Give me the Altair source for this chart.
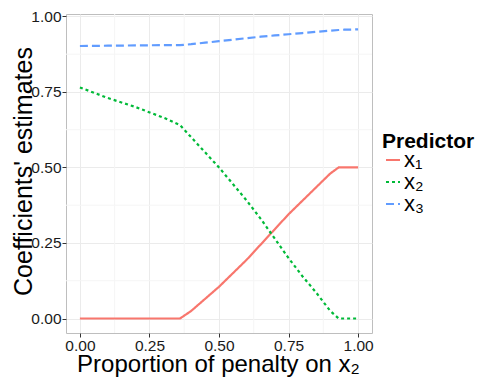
import altair as alt
import pandas as pd

prop = [0.0, 0.1, 0.2, 0.3, 0.36, 0.4, 0.45, 0.5, 0.55, 0.6, 0.65, 0.7, 0.75, 0.8, 0.85, 0.9, 0.93, 0.95, 1.0]
x1 = [0.0, 0.0, 0.0, 0.0, 0.0, 0.025, 0.065, 0.105, 0.15, 0.195, 0.245, 0.295, 0.345, 0.39, 0.435, 0.48, 0.50, 0.50, 0.50]
x2 = [0.765, 0.73, 0.70, 0.665, 0.64, 0.60, 0.55, 0.50, 0.445, 0.39, 0.33, 0.265, 0.20, 0.14, 0.085, 0.025, 0.0, 0.0, 0.0]
x3 = [0.902, 0.903, 0.904, 0.905, 0.905, 0.908, 0.913, 0.918, 0.923, 0.928, 0.933, 0.937, 0.941, 0.945, 0.949, 0.953, 0.955, 0.956, 0.957]
predictors = ["x₁", "x₂", "x₃"]
colors = ["#F8766D", "#00BA38", "#619CFF"]
dashes = [[1, 0], [3, 3], [8, 4]]
major_ticks = [0.0, 0.25, 0.5, 0.75, 1.0]
minor_ticks = [0.125, 0.375, 0.625, 0.875]

rows = []
for name, ys_ in zip(predictors, [x1, x2, x3]):
    for p, v in zip(prop, ys_):
        rows.append({"prop": p, "value": v, "Predictor": name})
df = pd.DataFrame(rows)
minor_df = pd.DataFrame({"m": minor_ticks})

xs = alt.Scale(domain=[-0.05, 1.05], nice=False, zero=False)
ys = alt.Scale(domain=[-0.048, 1.008], nice=False, zero=False)
xaxis = alt.Axis(values=major_ticks, format=".2f", grid=True,
                 titleX=152, titleY=38, titleBaseline="alphabetic", titleFontSize=24)
yaxis = alt.Axis(values=major_ticks, format=".2f", grid=True,
                 titleX=-35, titleY=157, titleBaseline="alphabetic", titleFontSize=25)
xtitle = "Proportion of penalty on x₂"
ytitle = "Coefficients' estimates"

grid_x = alt.Chart(minor_df).mark_rule(color="#F5F5F5", strokeWidth=1).encode(
    x=alt.X("m:Q", scale=xs, axis=xaxis, title=xtitle))
grid_y = alt.Chart(minor_df).mark_rule(color="#F5F5F5", strokeWidth=1).encode(
    y=alt.Y("m:Q", scale=ys, axis=yaxis, title=ytitle))

lines = alt.Chart(df).mark_line(strokeWidth=2.2).encode(
    x=alt.X("prop:Q", scale=xs, title=xtitle, axis=xaxis),
    y=alt.Y("value:Q", scale=ys, title=ytitle, axis=yaxis),
    color=alt.Color("Predictor:N", scale=alt.Scale(domain=predictors, range=colors),
                    legend=alt.Legend(title="Predictor")),
    strokeDash=alt.StrokeDash("Predictor:N", scale=alt.Scale(domain=predictors, range=dashes),
                              legend=alt.Legend(title="Predictor")),
)

chart = alt.layer(grid_x, grid_y, lines).properties(
    width=306, height=319,
    autosize=alt.AutoSizeParams(type="none"),
    padding={"left": 58, "top": 6, "right": 118, "bottom": 44},
).configure_view(
    stroke="#BEBEBE", strokeWidth=1
).configure_axis(
    labelFont="Liberation Sans", titleFont="Liberation Sans",
    labelFontSize=15.5, labelColor="#1a1a1a",
    titleFontWeight="normal", titleColor="#000000",
    gridColor="#EBEBEB", gridWidth=1,
    domain=False, tickColor="#333333", tickSize=4, labelPadding=1,
).configure_legend(
    orient="none", legendX=316, legendY=117,
    titleFont="Liberation Sans", titleFontSize=21, titleFontWeight="bold", titleColor="#000000",
    labelFont="Liberation Sans", labelFontSize=22, labelColor="#000000",
    symbolType="stroke", symbolSize=196, symbolStrokeWidth=2,
    rowPadding=0, labelOffset=0, titlePadding=-3,
)

chart.save("out.html", embed_options={"renderer": "svg", "actions": False})
